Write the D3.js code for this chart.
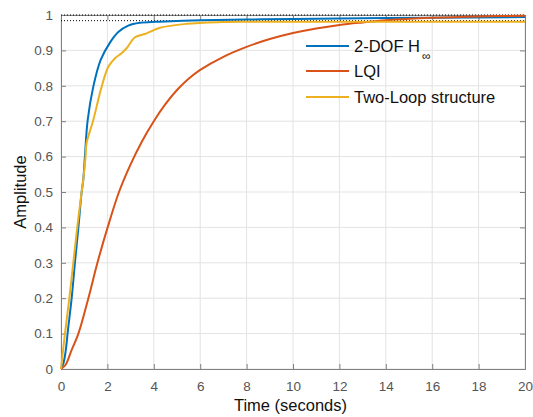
<!DOCTYPE html>
<html>
<head>
<meta charset="utf-8">
<script src="https://cdn.jsdelivr.net/npm/d3@7/dist/d3.min.js"></script>
<style>
  html, body { margin: 0; padding: 0; background: #fff; }
  svg { display: block; font-family: "Liberation Sans", Arial, sans-serif; }
</style>
</head>
<body>
<svg id="chart" width="533" height="417"></svg>
<script>
// Step responses of three controllers
const tH = [0, 0.1, 0.2, 0.3, 0.46, 0.6, 0.75, 0.89, 0.96, 1.03, 1.15, 1.39, 1.71, 2.11, 2.47, 2.9, 3.4, 4.1, 5, 6, 8, 10, 13, 16, 20];
const yH = [0, 0.015, 0.05, 0.11, 0.2, 0.3, 0.4, 0.5, 0.534, 0.6, 0.703, 0.797, 0.873, 0.922, 0.952, 0.97, 0.978, 0.981, 0.983, 0.985, 0.987, 0.989, 0.991, 0.992, 0.994];

const tLQI = [0, 0.2, 0.46, 0.75, 1.18, 1.57, 2.01, 2.5, 3, 3.5, 4, 4.5, 5, 5.5, 6, 7, 8, 9, 10, 11, 12, 13, 14, 16, 18, 20];
const yLQI = [0, 0.012, 0.054, 0.1, 0.2, 0.3, 0.4, 0.5, 0.578, 0.644, 0.7, 0.748, 0.788, 0.82, 0.845, 0.882, 0.91, 0.932, 0.949, 0.962, 0.972, 0.979, 0.985, 0.992, 0.996, 0.998];

const tTwo = [0, 0.17, 0.36, 0.53, 0.7, 0.89, 0.96, 1.06, 1.1, 1.39, 1.75, 2.04, 2.33, 2.61, 2.83, 3.19, 3.69, 4.27, 5.4, 6.9, 8, 10, 12, 14, 16, 18, 20];
const yTwo = [0, 0.1, 0.2, 0.3, 0.4, 0.5, 0.535, 0.6, 0.6375, 0.703, 0.797, 0.854, 0.878, 0.892, 0.906, 0.937, 0.948, 0.964, 0.975, 0.98, 0.981, 0.981, 0.981, 0.981, 0.981, 0.981, 0.981];

// Steady-state reference levels (dotted)
const refLevels = [1.0, 0.984];

const seriesNames = ["2-DOF H", "LQI", "Two-Loop structure"];
const seriesColors = ["#0072BD", "#D95319", "#EDB120"];

const xTicks = [0, 2, 4, 6, 8, 10, 12, 14, 16, 18, 20];
const yTicks = [0, 0.1, 0.2, 0.3, 0.4, 0.5, 0.6, 0.7, 0.8, 0.9, 1];
const yTickLabels = ["0", "0.1", "0.2", "0.3", "0.4", "0.5", "0.6", "0.7", "0.8", "0.9", "1"];

const svg = d3.select("#chart");
const L = 61, R = 525, T = 15, B = 369;
const x = d3.scaleLinear().domain([0, 20]).range([L, R]);
const y = d3.scaleLinear().domain([0, 1]).range([B, T]);

// grid
const grid = svg.append("g");
grid.selectAll("line.vx").data(xTicks).join("line")
  .attr("x1", d => x(d)).attr("x2", d => x(d)).attr("y1", T).attr("y2", B)
  .attr("stroke", "#e3e3e3").attr("stroke-width", 1);
grid.selectAll("line.hy").data(yTicks).join("line")
  .attr("x1", L).attr("x2", R).attr("y1", d => y(d)).attr("y2", d => y(d))
  .attr("stroke", "#e3e3e3").attr("stroke-width", 1);

// axes (inward ticks on all four sides)
const axisColor = "#808080";
const tickColor = "#555";
function styleAxis(g) {
  g.select(".domain").attr("stroke", axisColor).attr("stroke-width", 1);
  g.selectAll(".tick line").attr("stroke", axisColor);
  g.selectAll(".tick text").attr("fill", tickColor).attr("font-size", 13.5)
    .attr("font-family", "Liberation Sans, Arial, sans-serif");
}
svg.append("g").attr("transform", `translate(0,${B})`)
  .call(d3.axisBottom(x).tickValues(xTicks).tickSize(-5).tickPadding(12).tickFormat(d3.format("d")))
  .call(styleAxis);
svg.append("g").attr("transform", `translate(0,${T})`)
  .call(d3.axisTop(x).tickValues(xTicks).tickSize(-5).tickFormat(""))
  .call(styleAxis);
svg.append("g").attr("transform", `translate(${L},0)`)
  .call(d3.axisLeft(y).tickValues(yTicks).tickSize(-5).tickPadding(8).tickFormat((d, i) => yTickLabels[i]))
  .call(styleAxis);
svg.append("g").attr("transform", `translate(${R},0)`)
  .call(d3.axisRight(y).tickValues(yTicks).tickSize(-5).tickFormat(""))
  .call(styleAxis);

// dotted steady-state lines
svg.append("g").selectAll("line").data(refLevels).join("line")
  .attr("x1", L).attr("x2", R).attr("y1", d => y(d)).attr("y2", d => y(d))
  .attr("stroke", "#000").attr("stroke-width", 1).attr("stroke-dasharray", "1,2");

// response curves
const line = d3.line().x(d => x(d[0])).y(d => y(d[1])).curve(d3.curveCatmullRom.alpha(0.5));
const series = [d3.zip(tH, yH), d3.zip(tLQI, yLQI), d3.zip(tTwo, yTwo)];
svg.append("g").selectAll("path").data(series).join("path")
  .attr("d", line).attr("fill", "none")
  .attr("stroke", (d, i) => seriesColors[i]).attr("stroke-width", 2)
  .attr("stroke-linejoin", "round");

// legend
const rows = [46, 71, 97];
const leg = svg.append("g");
seriesNames.forEach((name, i) => {
  leg.append("line").attr("x1", 306).attr("x2", 349).attr("y1", rows[i]).attr("y2", rows[i])
    .attr("stroke", seriesColors[i]).attr("stroke-width", 2);
  const t = leg.append("text").attr("x", 354).attr("y", rows[i] + 6)
    .attr("font-size", 16.5).attr("fill", "#111").text(name);
  if (i === 0) {
    t.append("tspan").attr("dx", 2).attr("dy", 8).attr("font-size", 12).text("\u221E");
  }
});

// axis titles
svg.append("text").attr("x", 290.5).attr("y", 411).attr("text-anchor", "middle")
  .attr("font-size", 16.5).attr("fill", "#111").text("Time (seconds)");
svg.append("text").attr("transform", `translate(26,${(T + B) / 2}) rotate(-90)`)
  .attr("text-anchor", "middle").attr("font-size", 16.5).attr("fill", "#111").text("Amplitude");
</script>
</body>
</html>
